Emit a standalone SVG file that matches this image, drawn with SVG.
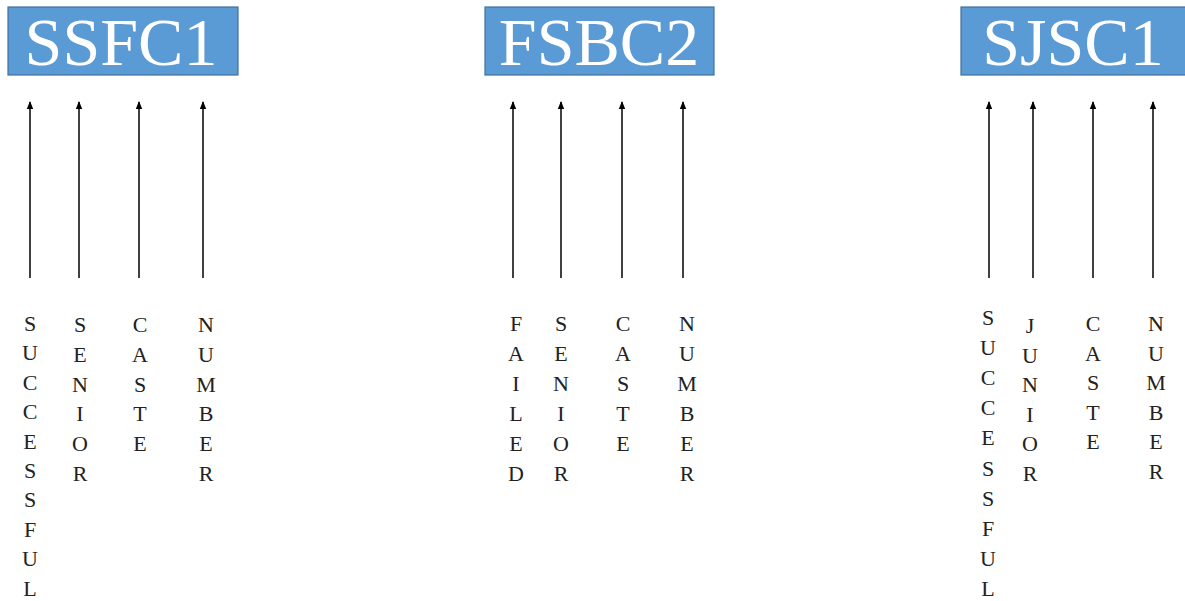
<svg xmlns="http://www.w3.org/2000/svg" width="1185" height="601" viewBox="0 0 1185 601">
<style>
.box{fill:#5B9BD5;stroke:#41719C;stroke-width:1.2}
.title{font-family:"Liberation Serif",serif;font-size:68px;fill:#fff;text-anchor:middle}
.lbl{font-family:"Liberation Serif",serif;font-size:22px;fill:#222;text-anchor:middle}
.arr{stroke:#000;stroke-width:1.5;fill:none;marker-end:url(#ah)}
</style>
<defs>
<marker id="ah" markerWidth="8" markerHeight="8" refX="7" refY="4" orient="auto" markerUnits="userSpaceOnUse">
<path d="M0,0.8 L8,4 L0,7.2 z" fill="#000"/>
</marker>
</defs>
<rect width="1185" height="601" fill="#fff"/>
<g id="node-ssfc1">
<rect class="box" x="8" y="7" width="230" height="68"/>
<text class="title" x="121" y="65">SSFC1</text>
</g>
<g id="node-fsbc2">
<rect class="box" x="485" y="7" width="229" height="68"/>
<text class="title" x="599" y="65">FSBC2</text>
</g>
<g id="node-sjsc1">
<rect class="box" x="961" y="7" width="232" height="68"/>
<text class="title" x="1073" y="65">SJSC1</text>
</g>
<g id="connectors">
<line class="arr" x1="30" y1="278" x2="30" y2="102"/>
<line class="arr" x1="79" y1="278" x2="79" y2="102"/>
<line class="arr" x1="139" y1="278" x2="139" y2="102"/>
<line class="arr" x1="203" y1="278" x2="203" y2="102"/>
<line class="arr" x1="513" y1="278" x2="513" y2="102"/>
<line class="arr" x1="561" y1="278" x2="561" y2="102"/>
<line class="arr" x1="622" y1="278" x2="622" y2="102"/>
<line class="arr" x1="683" y1="278" x2="683" y2="102"/>
<line class="arr" x1="989" y1="278" x2="989" y2="102"/>
<line class="arr" x1="1033" y1="278" x2="1033" y2="102"/>
<line class="arr" x1="1093" y1="278" x2="1093" y2="102"/>
<line class="arr" x1="1153" y1="278" x2="1153" y2="102"/>
</g>
<g id="labels-ssfc1">
<text class="lbl" x="30" y="331"><tspan x="30">S</tspan><tspan x="30" dy="29.4">U</tspan><tspan x="30" dy="29.4">C</tspan><tspan x="30" dy="29.4">C</tspan><tspan x="30" dy="29.4">E</tspan><tspan x="30" dy="29.4">S</tspan><tspan x="30" dy="29.4">S</tspan><tspan x="30" dy="29.4">F</tspan><tspan x="30" dy="29.4">U</tspan><tspan x="30" dy="29.4">L</tspan></text>
<text class="lbl" x="80" y="332"><tspan x="80">S</tspan><tspan x="80" dy="29.8">E</tspan><tspan x="80" dy="29.8">N</tspan><tspan x="80" dy="29.8">I</tspan><tspan x="80" dy="29.8">O</tspan><tspan x="80" dy="29.8">R</tspan></text>
<text class="lbl" x="140" y="332"><tspan x="140">C</tspan><tspan x="140" dy="29.8">A</tspan><tspan x="140" dy="29.8">S</tspan><tspan x="140" dy="29.8">T</tspan><tspan x="140" dy="29.8">E</tspan></text>
<text class="lbl" x="206" y="332"><tspan x="206">N</tspan><tspan x="206" dy="29.8">U</tspan><tspan x="206" dy="29.8">M</tspan><tspan x="206" dy="29.8">B</tspan><tspan x="206" dy="29.8">E</tspan><tspan x="206" dy="29.8">R</tspan></text>
</g>
<g id="labels-fsbc2">
<text class="lbl" x="516" y="331"><tspan x="516">F</tspan><tspan x="516" dy="29.9">A</tspan><tspan x="516" dy="29.9">I</tspan><tspan x="516" dy="29.9">L</tspan><tspan x="516" dy="29.9">E</tspan><tspan x="516" dy="29.9">D</tspan></text>
<text class="lbl" x="561" y="331"><tspan x="561">S</tspan><tspan x="561" dy="29.9">E</tspan><tspan x="561" dy="29.9">N</tspan><tspan x="561" dy="29.9">I</tspan><tspan x="561" dy="29.9">O</tspan><tspan x="561" dy="29.9">R</tspan></text>
<text class="lbl" x="623" y="331"><tspan x="623">C</tspan><tspan x="623" dy="29.9">A</tspan><tspan x="623" dy="29.9">S</tspan><tspan x="623" dy="29.9">T</tspan><tspan x="623" dy="29.9">E</tspan></text>
<text class="lbl" x="687" y="331"><tspan x="687">N</tspan><tspan x="687" dy="29.9">U</tspan><tspan x="687" dy="29.9">M</tspan><tspan x="687" dy="29.9">B</tspan><tspan x="687" dy="29.9">E</tspan><tspan x="687" dy="29.9">R</tspan></text>
</g>
<g id="labels-sjsc1">
<text class="lbl" x="988" y="325"><tspan x="988">S</tspan><tspan x="988" dy="30.1">U</tspan><tspan x="988" dy="30.1">C</tspan><tspan x="988" dy="30.1">C</tspan><tspan x="988" dy="30.1">E</tspan><tspan x="988" dy="30.1">S</tspan><tspan x="988" dy="30.1">S</tspan><tspan x="988" dy="30.1">F</tspan><tspan x="988" dy="30.1">U</tspan><tspan x="988" dy="30.1">L</tspan></text>
<text class="lbl" x="1030" y="333"><tspan x="1030">J</tspan><tspan x="1030" dy="29.6">U</tspan><tspan x="1030" dy="29.6">N</tspan><tspan x="1030" dy="29.6">I</tspan><tspan x="1030" dy="29.6">O</tspan><tspan x="1030" dy="29.6">R</tspan></text>
<text class="lbl" x="1093" y="331"><tspan x="1093">C</tspan><tspan x="1093" dy="29.6">A</tspan><tspan x="1093" dy="29.6">S</tspan><tspan x="1093" dy="29.6">T</tspan><tspan x="1093" dy="29.6">E</tspan></text>
<text class="lbl" x="1156" y="331"><tspan x="1156">N</tspan><tspan x="1156" dy="29.6">U</tspan><tspan x="1156" dy="29.6">M</tspan><tspan x="1156" dy="29.6">B</tspan><tspan x="1156" dy="29.6">E</tspan><tspan x="1156" dy="29.6">R</tspan></text>
</g>
</svg>
